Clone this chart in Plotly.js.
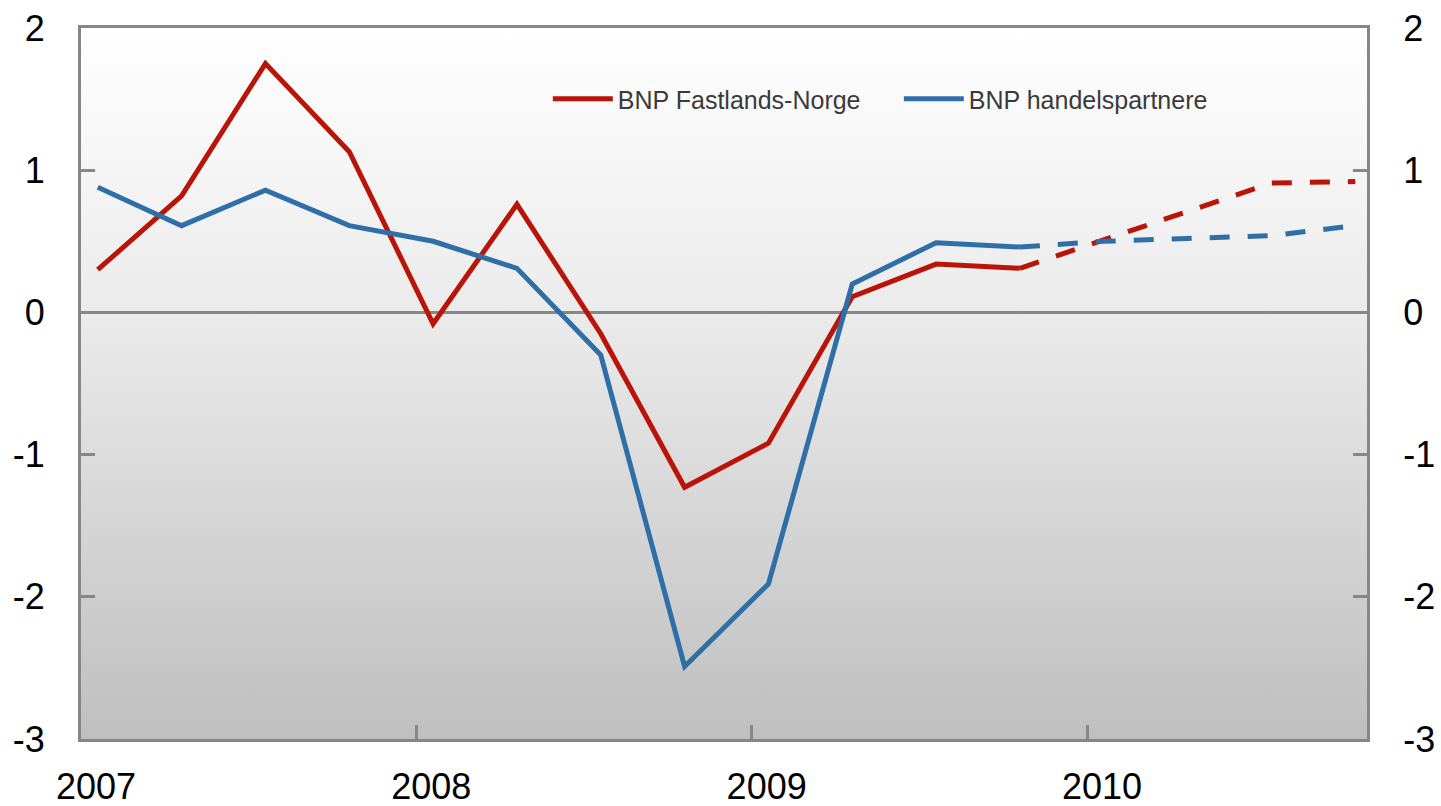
<!DOCTYPE html>
<html>
<head>
<meta charset="utf-8">
<script src="https://cdn.plot.ly/plotly-3.0.1.min.js"></script>
<style>
html,body{margin:0;padding:0;background:#ffffff;}
#chart{width:1441px;height:806px;}
</style>
</head>
<body>
<div id="chart"></div>
<script>
// Quarter positions (fractional years) for the observed series
var quarters = [2007.05, 2007.30, 2007.55, 2007.80, 2008.05, 2008.30, 2008.55, 2008.80, 2009.05, 2009.30, 2009.55, 2009.80];
// Projection quarter positions
var projQuarters = [2009.80, 2010.05, 2010.30, 2010.55, 2010.80];

var seriesNames = ["BNP Fastlands-Norge", "BNP handelspartnere"];

var fastlandsNorge = [0.30, 0.82, 1.75, 1.13, -0.08, 0.76, -0.15, -1.23, -0.92, 0.11, 0.34, 0.31];
var handelspartnere = [0.88, 0.61, 0.86, 0.61, 0.50, 0.31, -0.30, -2.49, -1.91, 0.20, 0.49, 0.46];

var fastlandsNorgeProj = [0.31, 0.51, 0.71, 0.91, 0.92];
var handelspartnereProj = [0.46, 0.50, 0.52, 0.54, 0.61];

var xTickVals = [2007, 2008, 2009, 2010];
var xTickText = ["2007", "2008", "2009", "2010"];
var yTickVals = [-3, -2, -1, 0, 1, 2];
var yTickText = ["-3", "-2", "-1", "0", "1", "2"];

var RED = "#BA1409";
var BLUE = "#2F6FA8";
var AXIS = "#878787";

var traces = [
  {x: quarters, y: fastlandsNorge, type: "scatter", mode: "lines", name: seriesNames[0],
   line: {color: RED, width: 5}},
  {x: quarters, y: handelspartnere, type: "scatter", mode: "lines", name: seriesNames[1],
   line: {color: BLUE, width: 5}},
  {x: projQuarters, y: fastlandsNorgeProj, type: "scatter", mode: "lines", showlegend: false,
   yaxis: "y2", line: {color: RED, width: 5, dash: "20px,18px"}},
  {x: projQuarters, y: handelspartnereProj, type: "scatter", mode: "lines", showlegend: false,
   yaxis: "y2", line: {color: BLUE, width: 5, dash: "20px,18px"}}
];

var svg = '<svg xmlns="http://www.w3.org/2000/svg" width="100" height="100" preserveAspectRatio="none">' +
  '<defs><linearGradient id="g" x1="0" y1="0" x2="0" y2="1">' +
  '<stop offset="0" stop-color="#ffffff"/><stop offset="0.4" stop-color="#ebebeb"/>' +
  '<stop offset="1" stop-color="#bfbfbf"/></linearGradient></defs>' +
  '<rect width="100" height="100" fill="url(#g)"/></svg>';
var bgSrc = "data:image/svg+xml;charset=utf-8," + encodeURIComponent(svg);

var tickFont = {family: "Liberation Sans, Arial, sans-serif", size: 36, color: "#000000"};

var layout = {
  width: 1441, height: 806,
  margin: {l: 81, r: 74, t: 28, b: 67, pad: 0},
  paper_bgcolor: "#ffffff",
  plot_bgcolor: "rgba(0,0,0,0)",
  showlegend: true,
  legend: {
    orientation: "h", x: 0.363, y: 0.9, xanchor: "left", yanchor: "middle",
    bgcolor: "rgba(0,0,0,0)", itemwidth: 60, entrywidth: 276,
    font: {family: "Liberation Sans, Arial, sans-serif", size: 25, color: "#3a3a3a"}
  },
  images: [{source: bgSrc, xref: "paper", yref: "paper", x: 0, y: 1, sizex: 1, sizey: 1,
            xanchor: "left", yanchor: "top", sizing: "stretch", layer: "below"}],
  xaxis: {
    range: [2007, 2010.835], tickvals: xTickVals, ticktext: xTickText,
    ticks: "inside", ticklen: 14, tickwidth: 3, tickcolor: AXIS,
    showline: true, linecolor: AXIS, linewidth: 3, mirror: true,
    showgrid: false, zeroline: false, tickfont: tickFont,
    ticklabelshift: 15, ticklabelstandoff: 14, fixedrange: true
  },
  yaxis: {
    range: [-3, 2], tickvals: yTickVals, ticktext: yTickText,
    ticks: "inside", ticklen: 14, tickwidth: 3, tickcolor: AXIS,
    showline: true, linecolor: AXIS, linewidth: 3,
    showgrid: false, zeroline: true, zerolinecolor: AXIS, zerolinewidth: 3,
    tickfont: tickFont, ticklabelstandoff: 26, fixedrange: true
  },
  yaxis2: {
    overlaying: "y", side: "right", anchor: "x",
    range: [-3, 2], tickvals: yTickVals, ticktext: yTickText,
    ticks: "inside", ticklen: 14, tickwidth: 3, tickcolor: AXIS,
    showline: true, linecolor: AXIS, linewidth: 3,
    showgrid: false, zeroline: false,
    tickfont: tickFont, ticklabelstandoff: 26, fixedrange: true
  }
};

Plotly.newPlot("chart", traces, layout, {displayModeBar: false, staticPlot: true});
</script>
</body>
</html>
